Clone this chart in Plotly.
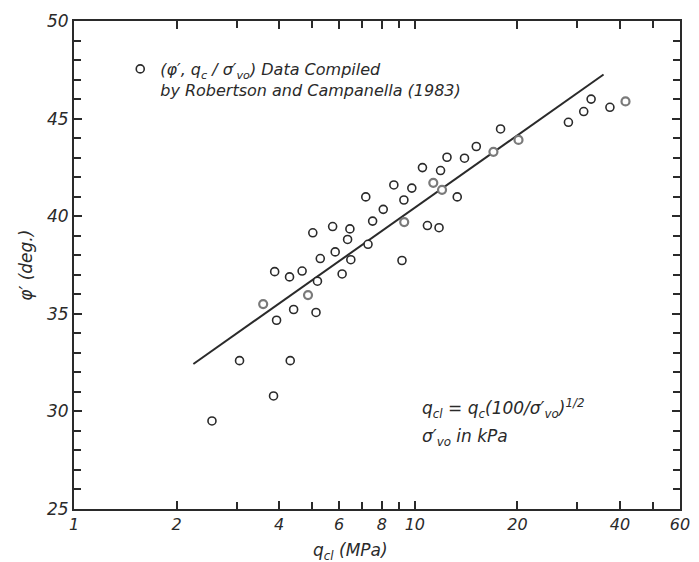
import plotly.graph_objects as go

# Data (q_c1 in MPa, phi' in degrees)
x_black = [2.54, 3.06, 4.31, 3.85, 3.93, 4.41, 5.13, 3.88, 4.29, 4.67, 5.18, 6.12,
           5.02, 5.74, 6.45, 6.35, 5.84, 5.28, 6.49, 7.29, 7.52, 7.18, 8.08, 8.68,
           9.80, 9.29, 9.17, 10.89, 11.78, 13.32, 10.53, 11.90, 12.43, 13.99, 15.15,
           17.85, 28.23, 31.31, 32.91, 37.37]
y_black = [29.51, 32.60, 32.60, 30.79, 34.67, 35.22, 35.07, 37.16, 36.89, 37.19, 36.67, 37.04,
           39.15, 39.47, 39.35, 38.81, 38.17, 37.83, 37.77, 38.56, 39.75, 40.99, 40.35, 41.60,
           41.44, 40.83, 37.73, 39.52, 39.41, 40.99, 42.49, 42.34, 43.02, 42.97, 43.57,
           44.47, 44.81, 45.36, 46.00, 45.58]
x_gray = [3.59, 4.86, 9.31, 11.33, 12.02, 17.01, 20.15, 41.52]
y_gray = [35.50, 35.96, 39.70, 41.71, 41.35, 43.30, 43.91, 45.88]

line_x = [2.24, 35.8]
line_y = [32.43, 47.26]

x_major = [1, 2, 4, 6, 8, 10, 20, 40, 60]
x_major_text = ["1", "2", "4", "6", "8", "10", "20", "40", "60"]
x_minor = [3, 5, 7, 9, 30, 50]

FONT = "DejaVu Sans"
INK = "#2a2a2a"

fig = go.Figure()
fig.add_trace(go.Scatter(
    x=line_x, y=line_y, mode="lines",
    line=dict(color=INK, width=2), showlegend=False, hoverinfo="skip"))
fig.add_trace(go.Scatter(
    x=x_black, y=y_black, mode="markers",
    marker=dict(symbol="circle", size=8, color="white", line=dict(color=INK, width=1.6)),
    name="(φ′, q<sub>c</sub> / σ′<sub>vo</sub>) Data Compiled<br>by Robertson and Campanella (1983)",
    showlegend=True))
fig.add_trace(go.Scatter(
    x=x_gray, y=y_gray, mode="markers",
    marker=dict(symbol="circle", size=8, color="white", line=dict(color="#7a7a7a", width=2.2)),
    showlegend=False))

def px_to_paper(px, py):
    return (px - 74) / 616, (509 - py) / 488

ann = []
ax, ay = px_to_paper(355, 551)
ann.append(dict(x=ax, y=ay, xref="paper", yref="paper", showarrow=False,
                text="q<sub>cl</sub> (MPa)", xanchor="center", yanchor="middle",
                font=dict(family=FONT, size=17, color=INK, style="italic")))
ax, ay = px_to_paper(25, 265)
ann.append(dict(x=ax, y=ay, xref="paper", yref="paper", showarrow=False,
                text="φ′ (deg.)", textangle=-90, xanchor="center", yanchor="middle",
                font=dict(family=FONT, size=17, color=INK, style="italic")))
ax, ay = px_to_paper(426, 408)
ann.append(dict(x=ax, y=ay, xref="paper", yref="paper", showarrow=False,
                text="q<sub>cl</sub> = q<sub>c</sub>(100/σ′<sub>vo</sub>)<sup>1/2</sup>",
                xanchor="left", yanchor="middle",
                font=dict(family=FONT, size=17, color=INK, style="italic")))
ax, ay = px_to_paper(426, 437)
ann.append(dict(x=ax, y=ay, xref="paper", yref="paper", showarrow=False,
                text="σ′<sub>vo</sub> in kPa",
                xanchor="left", yanchor="middle",
                font=dict(family=FONT, size=17, color=INK, style="italic")))

lx, ly = px_to_paper(121, 52)

fig.update_layout(
    width=699, height=562,
    margin=dict(l=74, r=9, t=21, b=53),
    paper_bgcolor="white", plot_bgcolor="white",
    font=dict(family=FONT, color=INK),
    annotations=ann,
    legend=dict(x=lx, y=ly, xanchor="left", yanchor="top", valign="top",
                bgcolor="rgba(0,0,0,0)", borderwidth=0,
                font=dict(family=FONT, size=16, color=INK, style="italic")),
    xaxis=dict(
        type="log", range=[0, 1.77815],
        tickmode="array", tickvals=x_major, ticktext=x_major_text,
        ticks="inside", ticklen=8, tickwidth=1.5, tickcolor=INK,
        minor=dict(tickmode="array", tickvals=x_minor, ticks="inside", ticklen=7,
                   tickwidth=1.5, tickcolor=INK, showgrid=False),
        showline=True, linecolor=INK, linewidth=2, mirror="ticks",
        showgrid=False, zeroline=False,
        tickfont=dict(family=FONT, size=16, color=INK, style="italic")),
    yaxis=dict(
        range=[25, 50], tickmode="linear", tick0=25, dtick=5,
        ticks="inside", ticklen=8, tickwidth=1.5, tickcolor=INK,
        minor=dict(dtick=1, ticks="inside", ticklen=7, tickwidth=1.5, tickcolor=INK,
                   showgrid=False),
        showline=True, linecolor=INK, linewidth=2, mirror="ticks",
        showgrid=False, zeroline=False,
        tickfont=dict(family=FONT, size=17, color=INK, style="italic")),
)

fig.write_html("out.html", config={"displayModeBar": False},
               post_script="document.body.style.margin='0';document.body.style.overflow='hidden';")
